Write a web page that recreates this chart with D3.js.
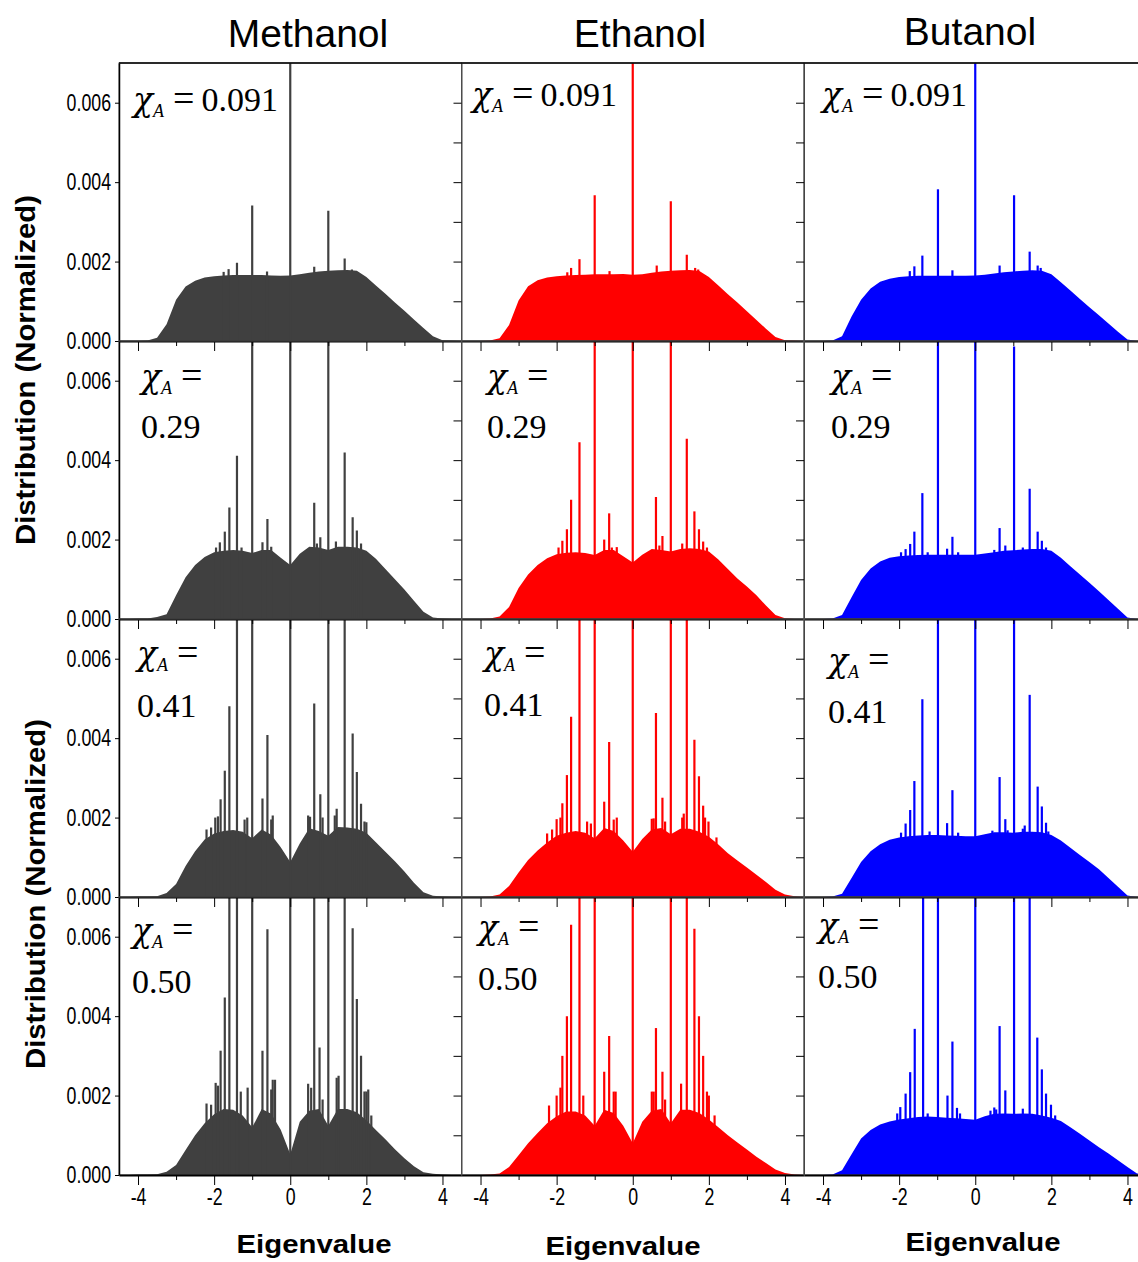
<!DOCTYPE html>
<html>
<head>
<meta charset="utf-8">
<script src="https://cdn.jsdelivr.net/npm/d3@7"></script>
<style>
  body { margin: 0; background: #fff; }
  svg { display: block; }
</style>
</head>
<body>
<svg id="chart" width="1138" height="1262"></svg>
<script>
// eigenvalue grid for the smooth background of each spectrum
const eigenGrid = [-4.5, -4.25, -4, -3.75, -3.5, -3.25, -3, -2.75, -2.5, -2.25, -2, -1.75, -1.5, -1.25, -1, -0.75, -0.5, -0.25,
  0, 0.25, 0.5, 0.75, 1, 1.25, 1.5, 1.75, 2, 2.25, 2.5, 2.75, 3, 3.25, 3.5, 3.75, 4, 4.25, 4.5];

const solvents = ['Methanol', 'Ethanol', 'Butanol'];
const fractions = ['0.091', '0.29', '0.41', '0.50'];
const xTicks = [-4, -2, 0, 2, 4];
const yTicks = [0, 0.002, 0.004, 0.006];

// background distribution, units of 1e-3
const methanol091 = [0, 0, 0, 0.01, 0.08, 0.42, 1.04, 1.37, 1.52, 1.60, 1.63, 1.65, 1.66, 1.66, 1.66, 1.66, 1.65, 1.64, 1.65,
  1.68, 1.72, 1.75, 1.77, 1.78, 1.79, 1.77, 1.61, 1.40, 1.19, 0.97, 0.76, 0.54, 0.33, 0.12, 0.02, 0.01, 0];
const ethanol091 = [0, 0, 0, 0.01, 0.07, 0.40, 1.02, 1.38, 1.53, 1.60, 1.63, 1.65, 1.66, 1.67, 1.68, 1.68, 1.68, 1.69, 1.67,
  1.68, 1.72, 1.75, 1.77, 1.78, 1.79, 1.76, 1.61, 1.40, 1.18, 0.97, 0.75, 0.53, 0.31, 0.10, 0.02, 0.01, 0];
const butanol091 = [0, 0, 0, 0.01, 0.12, 0.62, 1.04, 1.32, 1.49, 1.57, 1.61, 1.63, 1.64, 1.64, 1.64, 1.64, 1.64, 1.64, 1.65,
  1.67, 1.70, 1.73, 1.75, 1.77, 1.78, 1.77, 1.68, 1.48, 1.27, 1.06, 0.85, 0.65, 0.44, 0.23, 0.04, 0, 0];

const methanol029 = [0, 0, 0.01, 0.01, 0.05, 0.12, 0.60, 1.05, 1.36, 1.56, 1.68, 1.72, 1.74, 1.72, 1.66, 1.74, 1.74, 1.54, 1.36,
  1.64, 1.82, 1.80, 1.74, 1.82, 1.82, 1.80, 1.72, 1.52, 1.26, 1.00, 0.74, 0.46, 0.18, 0.04, 0.01, 0, 0];
const ethanol029 = [0, 0, 0, 0.01, 0.06, 0.30, 0.78, 1.12, 1.36, 1.53, 1.63, 1.67, 1.68, 1.66, 1.61, 1.74, 1.74, 1.58, 1.42,
  1.62, 1.76, 1.74, 1.70, 1.76, 1.78, 1.76, 1.70, 1.50, 1.26, 1.02, 0.82, 0.60, 0.34, 0.10, 0.02, 0, 0];
const butanol029 = [0, 0, 0, 0.01, 0.10, 0.55, 0.98, 1.27, 1.45, 1.54, 1.58, 1.60, 1.61, 1.62, 1.62, 1.62, 1.62, 1.62, 1.62,
  1.65, 1.68, 1.72, 1.73, 1.75, 1.76, 1.76, 1.72, 1.54, 1.33, 1.12, 0.91, 0.70, 0.48, 0.26, 0.04, 0, 0];

const methanol041 = [0, 0, 0.01, 0.01, 0.02, 0.10, 0.33, 0.78, 1.15, 1.45, 1.60, 1.66, 1.69, 1.64, 1.48, 1.70, 1.57, 1.25, 0.88,
  1.35, 1.73, 1.66, 1.54, 1.76, 1.75, 1.72, 1.62, 1.38, 1.14, 0.90, 0.64, 0.36, 0.12, 0.03, 0.01, 0, 0];
const ethanol041 = [0, 0, 0, 0.01, 0.06, 0.28, 0.62, 0.93, 1.17, 1.37, 1.54, 1.62, 1.66, 1.62, 1.48, 1.74, 1.66, 1.42, 1.14,
  1.46, 1.70, 1.74, 1.58, 1.72, 1.72, 1.64, 1.52, 1.32, 1.10, 0.92, 0.74, 0.56, 0.38, 0.18, 0.06, 0.02, 0];
const butanol041 = [0, 0, 0, 0.01, 0.08, 0.48, 0.88, 1.15, 1.33, 1.44, 1.50, 1.53, 1.55, 1.56, 1.56, 1.55, 1.54, 1.53, 1.53,
  1.58, 1.63, 1.63, 1.62, 1.64, 1.64, 1.63, 1.56, 1.42, 1.24, 1.06, 0.88, 0.70, 0.48, 0.26, 0.04, 0, 0];

const methanol050 = [0, 0, 0.01, 0.01, 0.02, 0.08, 0.25, 0.63, 1.00, 1.30, 1.53, 1.66, 1.64, 1.50, 1.20, 1.66, 1.54, 1.14, 0.52,
  1.34, 1.62, 1.66, 1.24, 1.66, 1.66, 1.58, 1.38, 1.13, 0.90, 0.65, 0.42, 0.22, 0.07, 0.03, 0.01, 0, 0];
const ethanol050 = [0, 0, 0, 0.01, 0.04, 0.20, 0.50, 0.80, 1.06, 1.30, 1.48, 1.60, 1.60, 1.50, 1.24, 1.64, 1.56, 1.24, 0.80,
  1.34, 1.62, 1.66, 1.30, 1.64, 1.64, 1.56, 1.40, 1.20, 1.00, 0.82, 0.64, 0.46, 0.30, 0.14, 0.05, 0.01, 0];
const butanol050 = [0, 0, 0, 0.01, 0.12, 0.52, 0.92, 1.13, 1.27, 1.35, 1.40, 1.43, 1.46, 1.47, 1.46, 1.44, 1.43, 1.41, 1.39,
  1.48, 1.54, 1.55, 1.54, 1.55, 1.54, 1.50, 1.44, 1.36, 1.20, 1.04, 0.87, 0.70, 0.54, 0.37, 0.20, 0.04, 0];

// sharp peaks: [eigenvalue, height in 1e-3]; 7.5 = runs off the top
const methanol091Peaks = [[-1.75, 1.74], [-1.62, 1.81], [-1.4, 1.97], [-1.0, 3.41], [-0.61, 1.75], [0, 7.5], [0.63, 1.87], [1.0, 3.28],
  [1.43, 2.08], [1.62, 1.80]];
const ethanol091Peaks = [[-1.72, 1.73], [-1.62, 1.84], [-1.4, 2.06], [-1.0, 3.67], [-0.61, 1.76], [0, 7.5], [0.63, 1.90], [1.0, 3.52],
  [1.42, 2.17], [1.64, 1.84], [1.72, 1.80]];
const butanol091Peaks = [[-1.72, 1.76], [-1.6, 1.88], [-1.39, 2.15], [-0.98, 3.82], [-0.6, 1.78], [0, 7.5], [0.64, 1.90], [1.02, 3.67],
  [1.43, 2.25], [1.64, 1.90], [1.72, 1.84]];

const methanol029Peaks = [[-1.95, 1.8], [-1.85, 1.93], [-1.72, 2.2], [-1.6, 2.81], [-1.4, 4.11], [-1.28, 1.8], [-1.0, 7.5], [-0.73, 1.93],
  [-0.6, 2.52], [-0.5, 1.82], [0, 7.5], [0.63, 2.93], [0.7, 1.9], [0.79, 2.06], [1.0, 7.5], [1.2, 1.95], [1.43, 4.19], [1.64, 2.56],
  [1.75, 2.23], [1.86, 1.90]];
const ethanol029Peaks = [[-1.95, 1.8], [-1.85, 1.97], [-1.73, 2.26], [-1.62, 3.0], [-1.4, 4.45], [-1.0, 7.5], [-0.75, 2.0], [-0.62, 2.66],
  [-0.55, 1.8], [-0.42, 1.81], [0, 7.5], [0.61, 3.07], [0.7, 1.85], [0.78, 2.09], [1.0, 7.5], [1.3, 1.9], [1.42, 4.54], [1.62, 2.71],
  [1.74, 2.26], [1.85, 1.95], [1.95, 1.8]];
const butanol029Peaks = [[-1.95, 1.68], [-1.83, 1.76], [-1.71, 1.89], [-1.6, 2.2], [-1.39, 3.17], [-1.25, 1.68], [-0.98, 7.5],
  [-0.74, 1.77], [-0.6, 2.07], [-0.45, 1.68], [0, 7.5], [0.5, 1.74], [0.64, 2.29], [0.79, 1.85], [1.02, 6.86], [1.25, 1.8],
  [1.43, 3.28], [1.64, 2.2], [1.75, 1.97], [1.86, 1.8]];

const methanol041Peaks = [[-2.2, 1.7], [-2.08, 1.75], [-1.97, 2.0], [-1.9, 2.03], [-1.83, 2.46], [-1.72, 3.18], [-1.6, 4.8], [-1.4, 7.5],
  [-1.2, 1.95], [-1.13, 2.0], [-1.0, 7.5], [-0.73, 2.48], [-0.6, 4.08], [-0.5, 1.95], [-0.46, 2.05], [0, 7.5], [0.47, 2.05],
  [0.52, 2.02], [0.63, 4.87], [0.79, 2.59], [0.85, 2.0], [1.0, 7.5], [1.17, 2.05], [1.22, 2.22], [1.43, 7.5], [1.64, 4.12],
  [1.75, 3.15], [1.86, 2.35], [1.95, 1.9], [2.0, 1.88]];
const ethanol041Peaks = [[-2.25, 1.6], [-2.12, 1.7], [-2.0, 1.96], [-1.9, 2.0], [-1.85, 2.36], [-1.73, 3.07], [-1.62, 4.54], [-1.4, 7.5],
  [-1.2, 1.9], [-1.1, 1.85], [-1.0, 7.5], [-0.75, 2.4], [-0.62, 3.9], [-0.5, 1.95], [-0.42, 2.0], [0, 7.5], [0.5, 1.97], [0.55, 1.98],
  [0.61, 4.63], [0.78, 2.5], [0.85, 1.9], [1.0, 7.5], [1.3, 2.0], [1.34, 2.1], [1.42, 7.5], [1.62, 3.96], [1.74, 3.04], [1.85, 2.3],
  [1.9, 2.0], [1.99, 1.9], [2.2, 1.5]];
const butanol041Peaks = [[-1.95, 1.62], [-1.83, 1.85], [-1.71, 2.19], [-1.6, 2.92], [-1.39, 4.98], [-1.2, 1.65], [-0.98, 7.5],
  [-0.74, 1.86], [-0.6, 2.69], [-0.45, 1.62], [0, 7.5], [0.45, 1.67], [0.64, 3.02], [0.79, 1.96], [0.85, 1.68], [1.02, 7.5],
  [1.25, 1.72], [1.3, 1.8], [1.43, 5.09], [1.64, 2.78], [1.75, 2.28], [1.86, 1.87], [1.92, 1.65]];

const methanol050Peaks = [[-2.2, 1.8], [-2.08, 1.77], [-1.96, 2.32], [-1.9, 2.25], [-1.83, 3.13], [-1.72, 4.47], [-1.6, 7.5],
  [-1.4, 7.5], [-1.3, 2.1], [-1.12, 2.2], [-1.0, 7.5], [-0.73, 3.13], [-0.6, 6.19], [-0.5, 2.15], [-0.46, 2.4], [-0.4, 2.4], [0, 7.5],
  [0.47, 2.3], [0.55, 2.2], [0.63, 7.5], [0.77, 3.21], [0.85, 1.9], [1.0, 7.5], [1.22, 2.45], [1.27, 2.5], [1.43, 7.5], [1.64, 6.21],
  [1.75, 4.43], [1.86, 3.0], [1.95, 2.1], [2.0, 2.1], [2.05, 2.15], [2.13, 1.5]];
const ethanol050Peaks = [[-2.2, 1.75], [-2.0, 2.0], [-1.9, 2.2], [-1.85, 3.0], [-1.73, 4.0], [-1.62, 6.3], [-1.4, 7.5], [-1.3, 2.0],
  [-1.0, 7.5], [-0.75, 2.6], [-0.62, 3.5], [-0.5, 2.1], [-0.45, 2.1], [0, 7.5], [0.5, 2.1], [0.55, 2.1], [0.61, 3.7], [0.78, 2.6],
  [0.85, 1.9], [1.0, 7.5], [1.27, 2.3], [1.42, 7.5], [1.62, 6.2], [1.74, 4.0], [1.85, 3.0], [1.95, 2.1], [2.0, 2.0], [2.15, 1.5]];
const butanol050Peaks = [[-2.05, 1.55], [-1.97, 1.71], [-1.83, 2.05], [-1.71, 2.59], [-1.59, 3.68], [-1.37, 7.5], [-1.25, 1.55],
  [-0.98, 7.5], [-0.73, 2.0], [-0.6, 3.36], [-0.48, 1.69], [-0.4, 1.55], [0, 7.5], [0.4, 1.62], [0.5, 1.7], [0.55, 1.65], [0.64, 3.75],
  [0.79, 2.13], [1.02, 7.5], [1.25, 1.67], [1.43, 7.5], [1.63, 3.46], [1.75, 2.66], [1.86, 2.05], [1.99, 1.77], [2.1, 1.5]];

const envelopes = [
  [methanol091, ethanol091, butanol091],
  [methanol029, ethanol029, butanol029],
  [methanol041, ethanol041, butanol041],
  [methanol050, ethanol050, butanol050]
];
const peakSets = [
  [methanol091Peaks, ethanol091Peaks, butanol091Peaks],
  [methanol029Peaks, ethanol029Peaks, butanol029Peaks],
  [methanol041Peaks, ethanol041Peaks, butanol041Peaks],
  [methanol050Peaks, ethanol050Peaks, butanol050Peaks]
];

const colors = ['#404040', '#ff0000', '#0000ff'];

// layout
const panelW = 342.5, panelH = 278, left0 = 119, top0 = 63;
// where the chi_A labels sit (x, first baseline, second baseline)
const labelPos = [
  [[133, 111], [472, 106], [822, 106]],
  [[141, 388, 438], [487, 388, 438], [831, 388, 438]],
  [[137, 665, 717], [484, 665, 716], [828, 672, 723]],
  [[132, 942, 993], [478, 939, 990], [818, 937, 988]]
];

const svg = d3.select('#chart');
const defs = svg.append('defs');
const marks = svg.append('g');
const frames = svg.append('g');
const sans = 'Liberation Sans, Arial, sans-serif';
const serif = 'Liberation Serif, Times New Roman, serif';

solvents.forEach((solvent, c) => {
  fractions.forEach((frac, r) => {
    const left = left0 + c * panelW, top = top0 + r * panelH;
    const x = d3.scaleLinear().domain([-4.5, 4.5]).range([left, left + panelW]);
    const y = d3.scaleLinear().domain([0, 0.007]).range([top + panelH, top]);

    const clipId = 'clip' + r + c;
    defs.append('clipPath').attr('id', clipId)
      .append('rect').attr('x', left).attr('y', top).attr('width', panelW).attr('height', panelH);

    const g = marks.append('g').attr('clip-path', `url(#${clipId})`);
    const pts = eigenGrid.map((e, i) => [e, envelopes[r][c][i]]);
    g.append('path')
      .datum(pts)
      .attr('d', d3.area().x(d => x(d[0])).y0(y(0)).y1(d => y(d[1] / 1000)))
      .attr('fill', colors[c]);

    g.selectAll('line')
      .data(peakSets[r][c])
      .enter()
      .append('line')
      .attr('x1', d => x(d[0]))
      .attr('x2', d => x(d[0]))
      .attr('y1', y(0))
      .attr('y2', d => y(d[1] / 1000))
      .attr('stroke', colors[c])
      .attr('stroke-width', 2.2);

    // frame
    frames.append('rect')
      .attr('x', left).attr('y', top).attr('width', panelW).attr('height', panelH)
      .attr('fill', 'none').attr('stroke', '#555').attr('stroke-width', 1);

    // bottom axis: major + minor ticks
    const isBottom = r === fractions.length - 1;
    const major = frames.append('g')
      .attr('transform', `translate(0,${top + panelH})`)
      .call(d3.axisBottom(x).tickValues(xTicks).tickSize(10).tickSizeOuter(0)
        .tickFormat(d => isBottom ? String(d) : ''));
    major.select('.domain').attr('stroke', '#000').attr('stroke-width', 2);
    frames.append('g')
      .attr('transform', `translate(0,${top + panelH})`)
      .call(d3.axisBottom(x).tickValues([-3, -1, 1, 3]).tickSize(5).tickSizeOuter(0).tickFormat(''))
      .select('.domain').remove();
    major.selectAll('text')
      .attr('transform', 'scale(0.74,1)')
      .style('font-family', sans).style('font-size', '24px').attr('fill', '#000');

    // left axis
    if (c === 0) {
      const ax = frames.append('g')
        .attr('transform', `translate(${left},0)`)
        .call(d3.axisLeft(y).tickValues(yTicks).tickSize(4).tickSizeOuter(0).tickFormat(d3.format('.3f')));
      ax.selectAll('text')
        .attr('x', -8 / 0.74)
        .attr('transform', 'scale(0.74,1)')
        .style('font-family', sans).style('font-size', '24px').attr('fill', '#000');
      ax.select('.domain').attr('stroke', '#000').attr('stroke-width', 1.5);
    } else {
      frames.append('g')
        .attr('transform', `translate(${left},0)`)
        .call(d3.axisLeft(y).tickValues([0.001, 0.002, 0.003, 0.004, 0.005, 0.006]).tickSize(8).tickSizeOuter(0).tickFormat(''))
        .select('.domain').attr('stroke', '#444');
    }

    // chi_A label
    const p = labelPos[r][c];
    const t = frames.append('text')
      .attr('x', p[0]).attr('y', p[1])
      .style('font-family', serif).style('font-size', '34px').attr('fill', '#000');
    t.append('tspan').style('font-family', 'DejaVu Serif, serif').style('font-style', 'italic')
      .style('font-size', '33px').text('χ');
    t.append('tspan').style('font-style', 'italic').style('font-size', '18px').attr('dy', 6).attr('dx', 0).text('A');
    t.append('tspan').attr('dy', -6).attr('dx', 9).style('font-size', '38px').text('=');
    if (r === 0) {
      t.append('tspan').attr('dx', 7).text(frac);
    } else {
      frames.append('text')
        .attr('x', p[0]).attr('y', p[2])
        .style('font-family', serif).style('font-size', '34px').attr('fill', '#000')
        .text(frac);
    }
  });
});

// top border
frames.append('line')
  .attr('x1', left0).attr('x2', 1138).attr('y1', top0).attr('y2', top0)
  .attr('stroke', '#000').attr('stroke-width', 1.5);

// column titles
const titleX = [308, 640, 970], titleY = [47, 47, 45];
svg.selectAll('.col-title')
  .data(solvents)
  .enter()
  .append('text')
  .attr('class', 'col-title')
  .attr('x', (d, i) => titleX[i])
  .attr('y', (d, i) => titleY[i])
  .attr('text-anchor', 'middle')
  .style('font-family', sans).style('font-size', '39px')
  .text(d => d);

// x axis titles
const xtX = [314, 623, 983], xtY = [1253, 1255, 1251];
solvents.forEach((s, i) => {
  svg.append('text')
    .attr('x', xtX[i]).attr('y', xtY[i])
    .attr('text-anchor', 'middle')
    .attr('textLength', 155).attr('lengthAdjust', 'spacingAndGlyphs')
    .style('font-family', sans).style('font-size', '25px').style('font-weight', 'bold')
    .text('Eigenvalue');
});

// y axis titles
[[35, 370], [45, 894]].forEach(([bx, cy]) => {
  svg.append('text')
    .attr('transform', `translate(${bx},${cy}) rotate(-90)`)
    .attr('text-anchor', 'middle')
    .attr('textLength', 350).attr('lengthAdjust', 'spacingAndGlyphs')
    .style('font-family', sans).style('font-size', '28px').style('font-weight', 'bold')
    .text('Distribution (Normalized)');
});
</script>
</body>
</html>
